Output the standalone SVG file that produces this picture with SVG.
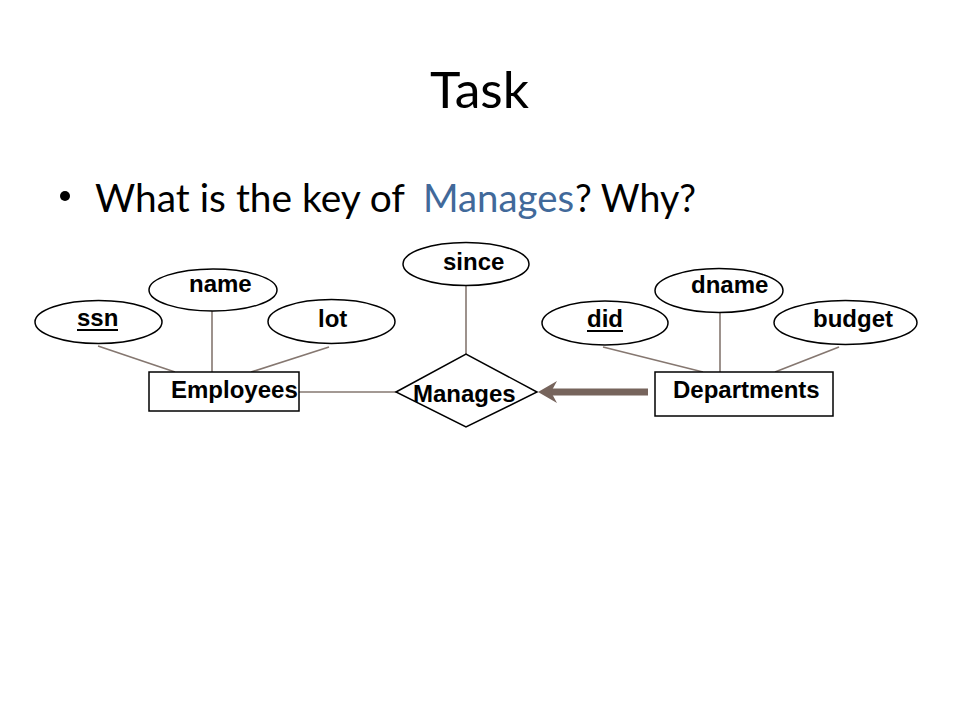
<svg xmlns="http://www.w3.org/2000/svg" width="960" height="720" viewBox="0 0 960 720">
<style>
.slide{font-family:Lato,"Open Sans","Noto Sans",sans-serif;fill:#000}
.lbl{font-family:"Liberation Sans",Arial,sans-serif;font-weight:bold;font-size:24px;fill:#000}
.attr{fill:#fff;stroke:#000;stroke-width:1.5}
.ent{fill:#fff;stroke:#000;stroke-width:1.5}
.rel{fill:#fff;stroke:#000;stroke-width:1.5}
.conn{stroke:#857770;stroke-width:1.6;fill:none}
.ul{stroke:#000;stroke-width:2}
</style>
<rect width="960" height="720" fill="#fff"/>
<text class="slide" x="430" y="108" font-size="50" textLength="99" lengthAdjust="spacingAndGlyphs">Task</text>
<circle cx="65" cy="196" r="5" fill="#000"/>
<text class="slide" x="95" y="212" font-size="39" textLength="310" lengthAdjust="spacingAndGlyphs">What is the key of</text>
<text class="slide" x="423" y="212" font-size="39" textLength="151" lengthAdjust="spacingAndGlyphs" style="fill:#41699A">Manages</text>
<text class="slide" x="575" y="212" font-size="39" textLength="121" lengthAdjust="spacingAndGlyphs">? Why?</text>

<g id="connectors">
<line class="conn" x1="98" y1="346" x2="175" y2="372"/>
<line class="conn" x1="212" y1="311" x2="212" y2="372"/>
<line class="conn" x1="329" y1="347" x2="251" y2="372"/>
<line class="conn" x1="299" y1="392" x2="396" y2="392"/>
<line class="conn" x1="466" y1="285" x2="466" y2="354"/>
<line class="conn" x1="603" y1="347" x2="703" y2="372"/>
<line class="conn" x1="720" y1="312" x2="720" y2="372"/>
<line class="conn" x1="839" y1="347" x2="775" y2="372"/>
<line x1="551" y1="392" x2="648" y2="392" stroke="#76645c" stroke-width="7"/>
<polygon points="538,392 557,381 551,392 557,403" fill="#76645c"/>
</g>

<g id="ssn">
<ellipse class="attr" cx="98.5" cy="322" rx="63.5" ry="21.5"/>
<text class="lbl" x="77" y="326">ssn</text>
<line class="ul" x1="77" y1="330" x2="118" y2="330"/>
</g>
<g id="name">
<ellipse class="attr" cx="213" cy="290" rx="64" ry="21"/>
<text class="lbl" x="189" y="292">name</text>
</g>
<g id="lot">
<ellipse class="attr" cx="331.5" cy="321.5" rx="63.5" ry="22"/>
<text class="lbl" x="318" y="327">lot</text>
</g>
<g id="since">
<ellipse class="attr" cx="466" cy="264" rx="63" ry="21.5"/>
<text class="lbl" x="443" y="270">since</text>
</g>
<g id="did">
<ellipse class="attr" cx="605" cy="323" rx="63" ry="22"/>
<text class="lbl" x="587" y="327">did</text>
<line class="ul" x1="587" y1="331" x2="623" y2="331"/>
</g>
<g id="dname">
<ellipse class="attr" cx="719" cy="290.5" rx="64" ry="22"/>
<text class="lbl" x="691" y="293">dname</text>
</g>
<g id="budget">
<ellipse class="attr" cx="845.5" cy="322.5" rx="71.5" ry="22"/>
<text class="lbl" x="813" y="327">budget</text>
</g>
<g id="employees">
<rect class="ent" x="149" y="372" width="150" height="39"/>
<text class="lbl" x="171" y="398">Employees</text>
</g>
<g id="departments">
<rect class="ent" x="655" y="372" width="178" height="44"/>
<text class="lbl" x="673" y="398">Departments</text>
</g>
<g id="manages">
<polygon class="rel" points="396,392 466,354 537,392 466,427"/>
<text class="lbl" x="413" y="402">Manages</text>
</g>
</svg>
